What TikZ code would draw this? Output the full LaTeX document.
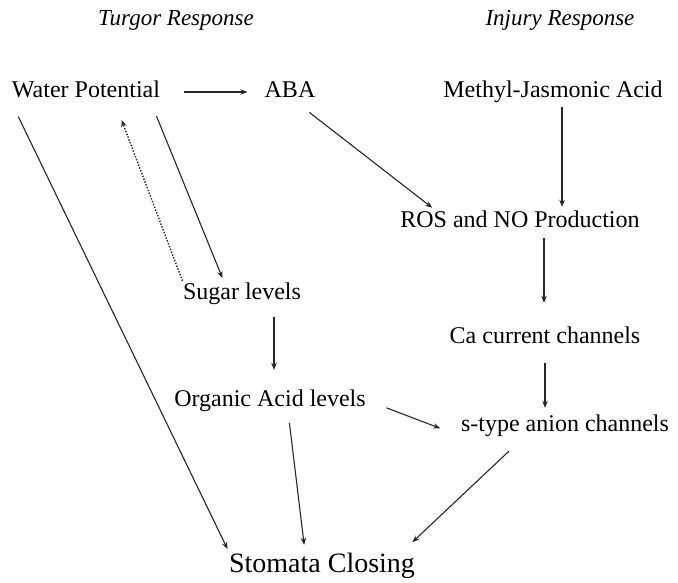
\documentclass[tikz,border=0pt]{standalone}
\usepackage{fontspec}
\setmainfont{Liberation Serif}
\usetikzlibrary{arrows.meta}

\tikzset{
    lbl/.style={inner sep=0pt, text height=17pt, text depth=5pt, font=\fontsize{24}{28}\selectfont},
    title/.style={inner sep=0pt, font=\fontsize{23}{27}\selectfont\itshape},
    arr/.style={-{Stealth[length=7pt,width=5.5pt]}, line width=1.1pt, draw=black!85},
}

\begin{document}
\begin{tikzpicture}[x=1pt, y=-1pt]
        \useasboundingbox (0,0) rectangle (678,583);

        % Headings
        \node[title] (turgor) at (176, 20) {Turgor Response};
        \node[title] (injury) at (560, 20) {Injury Response};

        % Turgor side
        \node[lbl] (water) at (86, 92) {Water Potential};
        \node[lbl] (aba) at (290, 92) {ABA};
        \node[lbl] (sugar) at (242, 293) {Sugar levels};
        \node[lbl] (organic) at (270, 400) {Organic Acid levels};

        % Injury side
        \node[lbl] (mja) at (553, 92) {Methyl-Jasmonic Acid};
        \node[lbl] (ros) at (520, 222) {ROS and NO Production};
        \node[lbl] (ca) at (545, 337) {Ca current channels};
        \node[lbl] (stype) at (565, 425) {s-type anion channels};

        % Result
        \node[lbl, text height=20pt, text depth=6pt, font=\fontsize{28}{32}\selectfont] (stomata) at (322, 565) {Stomata Closing};

        % Arrows
        \draw[arr, shorten <=24pt, shorten >=17pt] (water) -- (aba);
        \draw[arr, shorten <=15pt, shorten >=3pt] (water.south west) -- (stomata.north west);
        \draw[arr, dash pattern=on 1.4pt off 1.6pt, line width=1.4pt, shorten <=1pt, shorten >=18pt] (sugar.north west) -- ([xshift=-45pt]water.south east);
        \draw[arr, shorten <=14pt, shorten >=4pt] ([xshift=-9pt]water.south east) -- ([xshift=-18pt]sugar.north);
        \draw[arr, shorten <=15pt, shorten >=5pt] ([xshift=-18pt]aba.south east) -- ([xshift=36pt]ros.north west);
        \draw[arr, shorten <=4pt, shorten >=4pt] ([xshift=9pt]mja.south) -- ([xshift=9pt]mja.south |- ros.north);
        \draw[arr, shorten <=5pt, shorten >=23pt] ([xshift=24pt]ros.south) -- ([xshift=24pt]ros.south |- ca.north);
        \draw[arr, shorten <=15pt, shorten >=6pt] (ca.south) -- (ca.south |- stype.north);
        \draw[arr, shorten <=13pt, shorten >=19pt] ([xshift=32pt]sugar.south) -- ([xshift=32pt]sugar.south |- organic.north);
        \draw[arr, shorten <=22pt, shorten >=22pt] (organic.east) -- (stype.south west);
        \draw[arr, shorten <=12pt, shorten >=7pt] ([xshift=18pt]organic.south) -- ([xshift=-17pt]stomata.north);
        \draw[arr, shorten <=22pt, shorten >=14pt] ([xshift=64pt]stype.south west) -- ([xshift=-13pt]stomata.north east);
    \end{tikzpicture}
\end{document}
